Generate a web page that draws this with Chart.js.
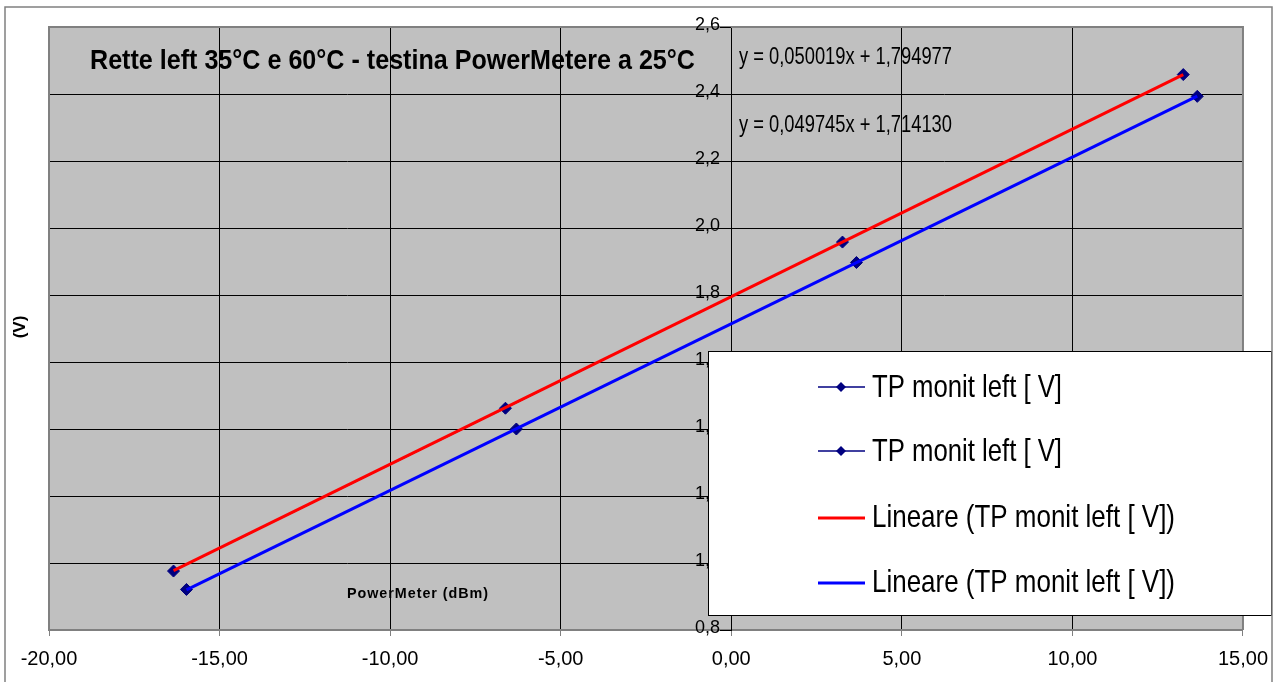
<!DOCTYPE html>
<html>
<head>
<meta charset="utf-8">
<title>Rette left 35°C e 60°C</title>
<script src="https://cdn.jsdelivr.net/npm/chart.js@4.4.1/dist/chart.umd.min.js"></script>
<style>
  body { margin: 0; background: #fff; }
  canvas { display: block; }
</style>
</head>
<body>
<canvas id="chart" width="1279" height="682"></canvas>
<script>
// measured points, TP monit left [V] vs PowerMeter (dBm)
const upperX = [-16.35, -6.62, 3.26, 13.25];
const upperY = [0.976, 1.462, 1.958, 2.458];
const lowerX = [-15.97, -6.30, 3.67, 13.66];
const lowerY = [0.921, 1.400, 1.897, 2.393];

// linear fits as printed on the chart
const upperFit = { slope: 0.050019, intercept: 1.794977 };
const lowerFit = { slope: 0.049745, intercept: 1.714130 };

const seriesName = 'TP monit left [ V]';
const fitName = 'Lineare (TP monit left [ V])';
const titleText = 'Rette left 35°C e 60°C - testina PowerMetere a 25°C';
const xTitle = 'PowerMeter (dBm)';
const yTitle = '(V)';

const xTicks = [-20, -15, -10, -5, 0, 5, 10, 15];
const yTicks = [0.8, 1.0, 1.2, 1.4, 1.6, 1.8, 2.0, 2.2, 2.4, 2.6];

const FONT = '"Liberation Sans", Arial, sans-serif';
const NAVY = '#000080';

function toPoints(xs, ys) {
  return xs.map((x, i) => ({ x: x, y: ys[i] }));
}

function fitLine(xs, fit) {
  const lo = Math.min(...xs), hi = Math.max(...xs);
  return [lo, hi].map(x => ({ x: x, y: fit.slope * x + fit.intercept }));
}

function eqLabel(fit) {
  const f = n => n.toFixed(6).replace('.', ',');
  return 'y = ' + f(fit.slope) + 'x + ' + f(fit.intercept);
}

function diamond(ctx, x, y, r) {
  ctx.beginPath();
  ctx.moveTo(x, y - r);
  ctx.lineTo(x + r, y);
  ctx.lineTo(x, y + r);
  ctx.lineTo(x - r, y);
  ctx.closePath();
  ctx.fill();
}

const decor = {
  id: 'decor',
  beforeDraw(chart) {
    const { ctx, chartArea: a } = chart;
    ctx.save();
    ctx.fillStyle = '#c0c0c0';
    ctx.fillRect(a.left, a.top, a.right - a.left, a.bottom - a.top);
    ctx.restore();
  },
  beforeDatasetsDraw(chart) {
    // grey frame round the plot area
    const { ctx, chartArea: a } = chart;
    ctx.save();
    ctx.strokeStyle = '#808080';
    ctx.lineWidth = 2;
    ctx.beginPath();
    ctx.moveTo(a.left, a.bottom);
    ctx.lineTo(a.left, a.top);
    ctx.lineTo(a.right, a.top);
    ctx.lineTo(a.right, a.bottom);
    ctx.stroke();
    ctx.restore();
  },
  afterDraw(chart) {
    const { ctx } = chart;
    const xs = chart.scales.x, ys = chart.scales.y;
    const axisX = Math.round(xs.getPixelForValue(0));
    ctx.save();

    // y tick marks and labels, left of the crossing axis
    ctx.strokeStyle = '#000';
    ctx.lineWidth = 1;
    ctx.fillStyle = '#000';
    ctx.font = '18px ' + FONT;
    ctx.textAlign = 'right';
    ctx.textBaseline = 'middle';
    yTicks.forEach(v => {
      const py = Math.round(ys.getPixelForValue(v)) + 0.5;
      ctx.beginPath();
      ctx.moveTo(axisX - 11, py);
      ctx.lineTo(axisX, py);
      ctx.stroke();
      ctx.fillText(v.toFixed(1).replace('.', ','), axisX - 11, py - 2);
    });

    ctx.textAlign = 'left';
    ctx.textBaseline = 'alphabetic';

    // title
    ctx.font = 'bold 28px ' + FONT;
    ctx.fillText(titleText, 90, 69, 605);

    // trendline equations
    ctx.font = '24px ' + FONT;
    ctx.fillText(eqLabel(upperFit), 739, 64, 213);
    ctx.fillText(eqLabel(lowerFit), 739, 132, 213);

    // axis titles
    ctx.font = 'bold 15px ' + FONT;
    ctx.letterSpacing = '1px';
    ctx.fillText(xTitle, 347, 598, 142);
    ctx.letterSpacing = '0px';
    ctx.save();
    ctx.translate(20, 327);
    ctx.rotate(-Math.PI / 2);
    ctx.textAlign = 'center';
    ctx.textBaseline = 'middle';
    ctx.font = 'bold 17px ' + FONT;
    ctx.fillText(yTitle, 0, 0);
    ctx.restore();

    // legend box
    ctx.fillStyle = '#fff';
    ctx.fillRect(708, 351, 563, 264);
    ctx.strokeStyle = '#000';
    ctx.lineWidth = 1;
    ctx.strokeRect(708.5, 351.5, 563, 264);

    const items = [
      { label: seriesName, color: NAVY, width: 1.5, marker: true, ly: 387, ty: 397, w: 190 },
      { label: seriesName, color: NAVY, width: 1.5, marker: true, ly: 451, ty: 461, w: 190 },
      { label: fitName, color: '#ff0000', width: 3, marker: false, ly: 518, ty: 527, w: 303 },
      { label: fitName, color: '#0000ff', width: 3, marker: false, ly: 583, ty: 592, w: 303 }
    ];
    items.forEach(it => {
      ctx.strokeStyle = it.color;
      ctx.lineWidth = it.width;
      ctx.beginPath();
      ctx.moveTo(818, it.ly);
      ctx.lineTo(865, it.ly);
      ctx.stroke();
      if (it.marker) {
        ctx.fillStyle = NAVY;
        diamond(ctx, 841, it.ly, 5);
      }
      ctx.fillStyle = '#000';
      ctx.font = '32px ' + FONT;
      ctx.fillText(it.label, 872, it.ty, it.w);
    });

    // outer chart border
    ctx.strokeStyle = '#808080';
    ctx.lineWidth = 1.5;
    ctx.beginPath();
    ctx.moveTo(5, 690);
    ctx.lineTo(5, 7);
    ctx.lineTo(1272, 7);
    ctx.lineTo(1272, 690);
    ctx.stroke();
    ctx.restore();
  }
};

new Chart(document.getElementById('chart').getContext('2d'), {
  type: 'scatter',
  data: {
    datasets: [
      {
        label: fitName,
        data: fitLine(upperX, upperFit),
        showLine: true,
        borderColor: '#ff0000',
        borderWidth: 3,
        pointRadius: 0,
        order: 0
      },
      {
        label: fitName,
        data: fitLine(lowerX, lowerFit),
        showLine: true,
        borderColor: '#0000ff',
        borderWidth: 3,
        pointRadius: 0,
        order: 0
      },
      {
        label: seriesName,
        data: toPoints(upperX, upperY),
        showLine: true,
        borderColor: NAVY,
        borderWidth: 1,
        backgroundColor: NAVY,
        pointStyle: 'rectRot',
        pointRadius: 6,
        order: 1
      },
      {
        label: seriesName,
        data: toPoints(lowerX, lowerY),
        showLine: true,
        borderColor: NAVY,
        borderWidth: 1,
        backgroundColor: NAVY,
        pointStyle: 'rectRot',
        pointRadius: 6,
        order: 1
      }
    ]
  },
  options: {
    responsive: false,
    animation: false,
    layout: { padding: { left: 49, right: 35, top: 27, bottom: 0 } },
    plugins: {
      legend: { display: false },
      tooltip: { enabled: false }
    },
    scales: {
      x: {
        type: 'linear',
        min: -20,
        max: 15,
        afterBuildTicks: s => { s.ticks = xTicks.map(v => ({ value: v })); },
        afterFit: s => { s.height = 52; },
        grid: { color: '#000', lineWidth: 1, tickLength: 6, tickColor: '#808080' },
        border: { color: '#808080', width: 2 },
        ticks: {
          color: '#000',
          padding: 11,
          maxRotation: 0,
          font: { family: FONT, size: 20 },
          callback: v => v.toFixed(2).replace('.', ',')
        }
      },
      y: {
        type: 'linear',
        min: 0.8,
        max: 2.6,
        position: { x: 0 },
        afterBuildTicks: s => { s.ticks = yTicks.map(v => ({ value: v })); },
        grid: { color: '#000', lineWidth: 1, drawTicks: false },
        border: { color: '#000', width: 1 },
        ticks: { display: false }
      }
    }
  },
  plugins: [decor]
});
</script>
</body>
</html>
